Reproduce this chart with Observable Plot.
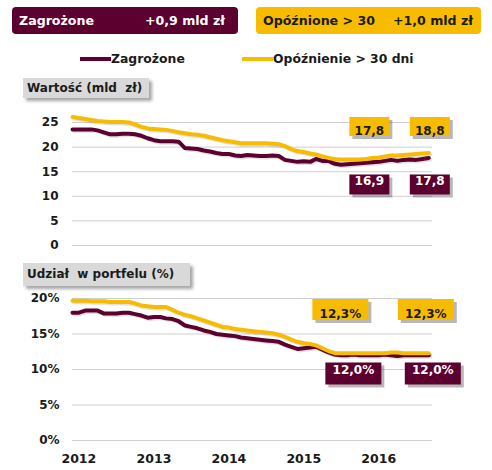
<!DOCTYPE html>
<html>
<head>
<meta charset="utf-8">
<script src="https://cdn.jsdelivr.net/npm/d3@7"></script>
<script src="https://cdn.jsdelivr.net/npm/@observablehq/plot@0.6"></script>
<style>
  html, body { margin: 0; padding: 0; background: #fff; }
  #root { position: relative; width: 492px; height: 470px; overflow: hidden;
          font-family: "DejaVu Sans", sans-serif; font-weight: bold; color: #1a1a1a; }
  .abs { position: absolute; white-space: pre; }
  .hdr { position: absolute; height: 27px; border-radius: 4px; }
  .hdr span { position: absolute; top: 0; line-height: 27px; font-size: 12.6px; white-space: pre; }
  .ttl { position: absolute; background: #d9d9d9; box-shadow: 3px 3px 3px rgba(0,0,0,0.35);
         font-size: 12px; white-space: pre; padding-left: 4px; box-sizing: border-box; z-index: 5; }
  .sw { position: absolute; height: 4px; width: 31px; }
  svg { position: absolute; left: 0; }
</style>
</head>
<body>
<div id="root"></div>
<script>
// ---- data ----
const maroon = "#5c0030";
const gold = "#f7bc00";

const seriesNames = ["Zagrożone", "Opóźnienie > 30 dni"];
const headerTexts = [["Zagrożone", "+0,9 mld zł"], ["Opóźnione > 30", "+1,0 mld zł"]];
const panelTitles = ["Wartość (mld  zł)", "Udział  w portfelu (%)"];

const months = d3.utcMonth.range(new Date(Date.UTC(2011, 11, 1)), new Date(Date.UTC(2016, 9, 1)));

const valZagrozone = [23.6,23.6,23.6,23.6,23.4,23.0,22.6,22.6,22.7,22.7,22.6,22.3,
  21.8,21.4,21.2,21.2,21.2,21.1,19.8,19.7,19.6,19.3,19.1,18.8,
  18.6,18.6,18.3,18.2,18.4,18.3,18.2,18.2,18.3,18.2,17.4,17.2,
  17.0,17.1,17.0,17.6,17.2,17.2,16.6,16.4,16.5,16.6,16.7,16.8,
  16.9,17.0,17.2,17.4,17.2,17.4,17.5,17.4,17.6,17.8];
const valOpoznione = [26.1,25.9,25.7,25.5,25.3,25.2,25.1,25.1,25.1,25.0,24.6,24.1,
  23.8,23.7,23.6,23.5,23.3,23.0,22.8,22.6,22.5,22.3,22.0,21.7,
  21.4,21.2,21.0,20.8,20.8,20.8,20.8,20.8,20.7,20.6,20.2,19.6,
  19.2,19.0,18.7,18.5,18.1,17.8,17.6,17.5,17.5,17.5,17.5,17.6,
  17.8,17.9,18.1,18.3,18.3,18.4,18.5,18.6,18.7,18.8];
const shrZagrozone = [18.0,18.0,18.3,18.3,18.3,17.9,17.9,17.9,18.0,18.0,17.8,17.6,
  17.3,17.4,17.4,17.2,17.1,16.8,16.2,16.0,15.8,15.5,15.3,15.0,
  14.9,14.8,14.7,14.5,14.4,14.3,14.2,14.1,14.0,13.9,13.5,13.2,
  12.9,13.0,13.1,13.2,12.8,12.4,12.1,12.0,12.0,12.1,12.0,12.0,
  12.0,12.0,12.1,12.0,11.9,12.0,12.0,12.0,12.0,12.0];
const shrOpoznione = [19.7,19.7,19.7,19.6,19.6,19.6,19.5,19.5,19.5,19.5,19.3,19.0,
  18.9,18.8,18.8,18.8,18.4,18.0,17.7,17.5,17.2,16.9,16.6,16.3,
  16.0,15.9,15.7,15.6,15.5,15.4,15.3,15.2,15.1,14.9,14.6,14.2,
  13.9,13.7,13.6,13.4,13.0,12.6,12.3,12.3,12.3,12.3,12.3,12.3,
  12.3,12.3,12.3,12.4,12.4,12.3,12.3,12.3,12.3,12.3];

const valTicks = [0, 5, 10, 15, 20, 25];
const shrTicks = [0, 5, 10, 15, 20];
const yearTicks = [2012, 2013, 2014, 2015, 2016];
const calloutMonths = ["2015-12", "2016-09"];

// ---- helpers ----
const root = document.getElementById("root");
const el = (tag, cls, style, text) => {
  const e = document.createElement(tag);
  if (cls) e.className = cls;
  Object.assign(e.style, style || {});
  if (text != null) e.textContent = text;
  return e;
};

// header boxes
const h1 = el("div", "hdr", {left: "12px", top: "7px", width: "226px", background: maroon, color: "#fff"});
h1.append(el("span", "", {left: "7px"}, headerTexts[0][0]), el("span", "", {right: "13px"}, headerTexts[0][1]));
const h2 = el("div", "hdr", {left: "256px", top: "7px", width: "225px", background: gold, color: "#1a1a1a"});
h2.append(el("span", "", {left: "7px"}, headerTexts[1][0]), el("span", "", {right: "8px"}, headerTexts[1][1]));
root.append(h1, h2);

// legend
root.append(el("div", "sw", {left: "80px", top: "57px", background: maroon}));
root.append(el("div", "abs", {left: "111px", top: "51px", fontSize: "12.4px"}, seriesNames[0]));
root.append(el("div", "sw", {left: "242px", top: "57px", background: gold}));
root.append(el("div", "abs", {left: "273px", top: "51px", fontSize: "12.4px"}, seriesNames[1]));

const fmt = (v, pct) => d3.format(".1f")(v).replace(".", ",") + (pct ? "%" : "");
const mkData = (a, b) => months.map((d, i) => ({date: d, z: a[i], o: b[i]}));
const pick = (data, key) => calloutMonths.map(m => {
  const d = data.find(r => d3.utcFormat("%Y-%m")(r.date) === m);
  return {date: d.date, value: d[key]};
});
const rectSym = (w, h) => ({draw(ctx) { ctx.rect(-w / 2, -h / 2, w, h); }});

function callout(datum, {dx, dy, anchor, fill, color, w, h, pct}) {
  const base = {x: "date", frameAnchor: anchor};
  return [
    Plot.dot([datum], {...base, dx: dx + 3, dy: dy + 3, symbol: rectSym(w, h), fill: "#000", fillOpacity: 0.28, stroke: null}),
    Plot.dot([datum], {...base, dx, dy, symbol: rectSym(w, h), fill, stroke: null}),
    Plot.text([datum], {...base, dx, dy, text: d => fmt(d.value, pct), fill: color, fontSize: 12, fontWeight: "bold"})
  ];
}

const xDomain = [new Date(Date.UTC(2011, 11, 1)), new Date(Date.UTC(2016, 8, 19))];
const commonStyle = {fontFamily: "DejaVu Sans", fontSize: "12px", fontWeight: "bold", color: "#1a1a1a", background: "transparent", overflow: "visible"};

function lines(data) {
  return [
    Plot.lineY(data, {x: "date", y: "z", stroke: "#000", strokeOpacity: 0.12, strokeWidth: 4, dx: 1.5, dy: 1.5}),
    Plot.lineY(data, {x: "date", y: "o", stroke: "#000", strokeOpacity: 0.12, strokeWidth: 4, dx: 1.5, dy: 1.5}),
    Plot.lineY(data, {x: "date", y: "z", stroke: maroon, strokeWidth: 4, strokeLinejoin: "round"}),
    Plot.lineY(data, {x: "date", y: "o", stroke: gold, strokeWidth: 4, strokeLinejoin: "round"})
  ];
}

// ---- top chart ----
const valData = mkData(valZagrozone, valOpoznione);
const vz = pick(valData, "z"), vo = pick(valData, "o");
const valChart = Plot.plot({
  width: 492, height: 155,
  marginLeft: 72, marginRight: 60, marginTop: 22, marginBottom: 10,
  style: commonStyle,
  x: {type: "utc", domain: xDomain, axis: null},
  y: {domain: [0, 25], ticks: valTicks},
  marks: [
    Plot.gridY(valTicks, {stroke: "#cfcfcf", strokeOpacity: 1}),
    Plot.axisY(valTicks, {tickSize: 0, tickPadding: 14, fontWeight: "bold", fontSize: 12}),
    ...lines(valData),
    ...callout(vo[0], {dx: -3, dy: 4, anchor: "top", fill: gold, color: "#1a1a1a", w: 40, h: 19}),
    ...callout(vo[1], {dx: 1, dy: 4, anchor: "top", fill: gold, color: "#1a1a1a", w: 40, h: 19}),
    ...callout(vz[0], {dx: -3, dy: -61, anchor: "bottom", fill: maroon, color: "#fff", w: 40, h: 20}),
    ...callout(vz[1], {dx: 1, dy: -61, anchor: "bottom", fill: maroon, color: "#fff", w: 40, h: 20})
  ]
});
valChart.style.top = "100px";
root.append(valChart);

// ---- bottom chart ----
const shrData = mkData(shrZagrozone, shrOpoznione);
const sz = pick(shrData, "z"), so = pick(shrData, "o");
const shrChart = Plot.plot({
  width: 492, height: 215,
  marginLeft: 72, marginRight: 60, marginTop: 43, marginBottom: 30,
  style: commonStyle,
  x: {type: "utc", domain: xDomain},
  y: {domain: [0, 20], ticks: shrTicks},
  marks: [
    Plot.gridY(shrTicks, {stroke: "#cfcfcf", strokeOpacity: 1}),
    Plot.axisY(shrTicks, {tickSize: 0, tickPadding: 13, tickFormat: d => d + "%", fontWeight: "bold", fontSize: 12}),
    Plot.axisX(yearTicks.map(y => new Date(Date.UTC(y, 0, 1))), {tickSize: 0, tickPadding: 14, tickFormat: d3.utcFormat("%Y"), fontWeight: "bold", fontSize: 12.5}),
    ...lines(shrData),
    ...callout(so[0], {dx: -32, dy: 11, anchor: "top", fill: gold, color: "#1a1a1a", w: 56, h: 21, pct: true}),
    ...callout(so[1], {dx: -3, dy: 11, anchor: "top", fill: gold, color: "#1a1a1a", w: 56, h: 21, pct: true}),
    ...callout(sz[0], {dx: -19, dy: -67, anchor: "bottom", fill: maroon, color: "#fff", w: 56, h: 22, pct: true}),
    ...callout(sz[1], {dx: 4, dy: -67, anchor: "bottom", fill: maroon, color: "#fff", w: 56, h: 22, pct: true})
  ]
});
shrChart.style.top = "255px";
root.append(shrChart);

// panel titles
root.append(el("div", "ttl", {left: "23px", top: "78px", width: "126px", height: "20px", lineHeight: "20px"}, panelTitles[0]));
root.append(el("div", "ttl", {left: "23px", top: "263px", width: "167px", height: "23px", lineHeight: "23px"}, panelTitles[1]));
</script>
</body>
</html>
